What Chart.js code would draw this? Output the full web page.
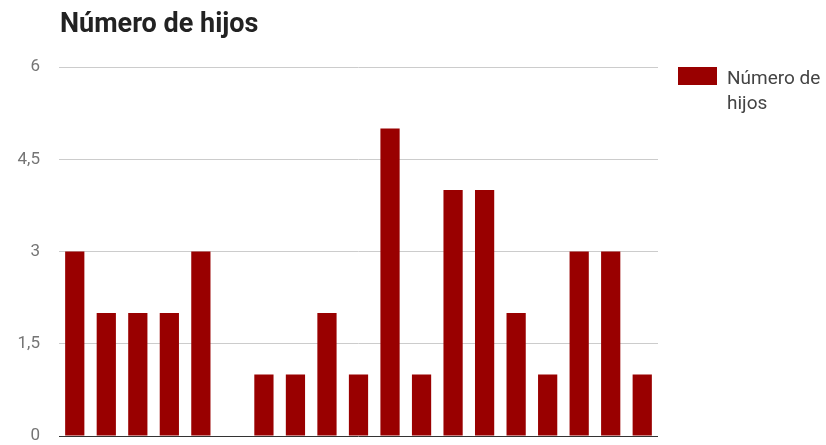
<!DOCTYPE html>
<html>
<head>
<meta charset="utf-8">
<script src="https://cdn.jsdelivr.net/npm/chart.js@4/dist/chart.umd.min.js"></script>
<style>
  body { margin: 0; background: #fff; }
  #wrap { width: 826px; height: 445px; }
</style>
</head>
<body>
<div id="wrap"><canvas id="myChart"></canvas></div>
<script>
// datos
var titulo = "Número de hijos";
var serie = "Número de hijos";
var categorias = ["1", "2", "3", "4", "5", "6", "7", "8", "9", "10",
  "11", "12", "13", "14", "15", "16", "17", "18", "19"];
var hijos = [3, 2, 2, 2, 3, 0, 1, 1, 2, 1, 5, 1, 4, 4, 2, 1, 3, 3, 1];
var ticksY = [0, 1.5, 3, 4.5, 6];

var rojo = "#990000";

// titulo y leyenda dibujados a mano (la leyenda parte el texto en dos lineas)
const extras = {
  id: "extras",
  afterDraw(chart) {
    const ctx = chart.ctx;
    ctx.save();
    ctx.fillStyle = "#222";
    ctx.font = "bold 27px Roboto";
    ctx.textBaseline = "alphabetic";
    ctx.textAlign = "left";
    ctx.fillText(titulo, 60, 32);

    ctx.fillStyle = chart.data.datasets[0].backgroundColor;
    ctx.fillRect(678, 67, 39, 18);
    ctx.fillStyle = "#444";
    ctx.font = "19px Roboto";
    const palabras = chart.data.datasets[0].label.split(" ");
    const linea1 = palabras.slice(0, 2).join(" ");
    const linea2 = palabras.slice(2).join(" ");
    ctx.fillText(linea1, 727, 84);
    ctx.fillText(linea2, 727, 109);
    ctx.restore();
  },
};

const data = {
  labels: categorias,
  datasets: [
    {
      label: serie,
      data: hijos,
      backgroundColor: rojo,
      categoryPercentage: 1,
      barPercentage: 0.61,
    },
  ],
};

const config = {
  type: "bar",
  data,
  options: {
    responsive: true,
    maintainAspectRatio: false,
    animation: false,
    layout: { padding: { top: 67, right: 168, bottom: 9, left: 0 } },
    plugins: {
      legend: { display: false },
      title: { display: false },
      tooltip: { enabled: false },
    },
    scales: {
      x: { display: false },
      y: {
        min: 0,
        max: 6,
        afterBuildTicks: (s) => { s.ticks = ticksY.map((v) => ({ value: v })); },
        afterFit: (s) => {
          s.width = 59;
          s.paddingTop = 0;
          s.paddingBottom = 0;
        },
        border: { display: false },
        grid: {
          drawTicks: false,
          color: (c) => (c.tick && c.tick.value === 0 ? "#333" : "#cccccc"),
        },
        ticks: {
          padding: 19,
          color: "#757575",
          font: { family: "Roboto", size: 17 },
          callback: (v) => String(v).replace(".", ","),
        },
      },
    },
  },
  plugins: [extras],
};

myChart = new Chart(document.getElementById("myChart"), config);
</script>
</body>
</html>
